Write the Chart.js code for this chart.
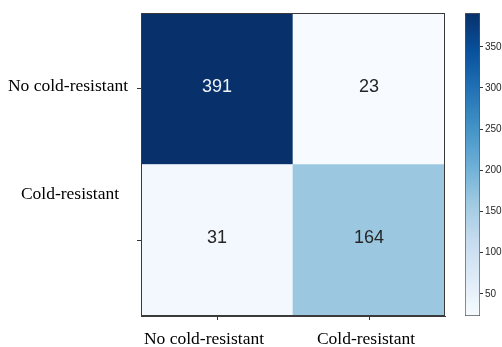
<!DOCTYPE html>
<html>
<head>
<meta charset="utf-8">
<script src="https://cdn.jsdelivr.net/npm/chart.js@4.4.1/dist/chart.umd.min.js"></script>
<style>
  html, body { margin: 0; padding: 0; background: #ffffff; }
  #wrap { position: relative; width: 502px; height: 347px; overflow: hidden; }
  #main { position: absolute; left: 0; top: 0; }
  #cbar { position: absolute; left: 455px; top: 0; }
</style>
</head>
<body>
<div id="wrap">
  <canvas id="main" width="455" height="347"></canvas>
  <canvas id="cbar" width="47" height="347"></canvas>
</div>
<script>
// ---- data ----
const categories = ['No cold-resistant', 'Cold-resistant'];   // true label (rows) / predicted (cols)
const rowNoCold = [391, 23];      // row "No cold-resistant"
const rowCold = [31, 164];        // row "Cold-resistant"
const colorbarTicks = [50, 100, 150, 200, 250, 300, 350];

const allVals = rowNoCold.concat(rowCold);
const vMin = Math.min(...allVals);
const vMax = Math.max(...allVals);

// matplotlib "Blues" colormap stops
const bluesStops = ['#f7fbff', '#deebf7', '#c6dbef', '#9ecae1', '#6baed6', '#4292c6', '#2171b5', '#08519c', '#08306b'];
function hexToRgb(h) { return [parseInt(h.substr(1,2),16), parseInt(h.substr(3,2),16), parseInt(h.substr(5,2),16)]; }
function blues(t) {
  t = Math.max(0, Math.min(1, t));
  const n = bluesStops.length - 1;
  const i = Math.min(n - 1, Math.floor(t * n));
  const f = t * n - i;
  const a = hexToRgb(bluesStops[i]), b = hexToRgb(bluesStops[i + 1]);
  const c = a.map((v, k) => Math.round(v + (b[k] - v) * f));
  return 'rgb(' + c.join(',') + ')';
}
const colorFor = v => blues((v - vMin) / (vMax - vMin));

Chart.defaults.animation = false;
Chart.defaults.devicePixelRatio = 1;

const SANS = "'Liberation Sans', Arial, sans-serif";
const SERIF = "'Liberation Serif', 'Times New Roman', serif";

// ---- heatmap (stacked bars: bottom row first) ----
const cellPlugin = {
  id: 'cells',
  afterDatasetsDraw(chart) {
    const ctx = chart.ctx;
    ctx.save();
    ctx.font = '18px ' + SANS;
    ctx.textAlign = 'center';
    ctx.textBaseline = 'middle';
    chart.data.datasets.forEach((ds, di) => {
      const meta = chart.getDatasetMeta(di);
      meta.data.forEach((el, i) => {
        const v = ds.values[i];
        ctx.fillStyle = v > (vMin + vMax) / 2 ? '#eef3f8' : '#262626';
        ctx.fillText(String(v), el.x, (el.y + el.base) / 2 - 2);
      });
    });
    // frame
    const a = chart.chartArea;
    ctx.strokeStyle = '#3a3a3a';
    ctx.lineWidth = 1;
    ctx.strokeRect(Math.round(a.left) + 0.5, Math.round(a.top) + 0.5, Math.round(a.right - a.left) - 1, Math.round(a.bottom - a.top) - 1);
    ctx.fillStyle = '#000000';
    ctx.font = '17.5px ' + SERIF;
    // y labels (row names)
    const ys = chart.scales.y;
    ctx.fillText(categories[0], 68, ys.getPixelForValue(1.5) - 2);
    ctx.fillText(categories[1], 70, ys.getPixelForValue(0.79) - 2);
    // x labels (column names)
    const xs = chart.scales.x;
    const xOff = [-13, -3];
    categories.forEach((c, i) => {
      ctx.fillText(c, xs.getPixelForTick(i) + xOff[i], a.bottom + 23);
    });
    ctx.restore();
  }
};

new Chart(document.getElementById('main'), {
  type: 'bar',
  data: {
    labels: categories,
    datasets: [
      { label: categories[1], values: rowCold, data: rowCold.map(() => 1),
        backgroundColor: rowCold.map(colorFor), borderWidth: 0,
        barPercentage: 1, categoryPercentage: 1 },
      { label: categories[0], values: rowNoCold, data: rowNoCold.map(() => 1),
        backgroundColor: rowNoCold.map(colorFor), borderWidth: 0,
        barPercentage: 1, categoryPercentage: 1 }
    ]
  },
  options: {
    responsive: false,
    layout: { padding: { top: 13, right: 10, left: 0, bottom: 0 } },
    plugins: { legend: { display: false }, tooltip: { enabled: false } },
    scales: {
      x: {
        stacked: true,
        grid: { drawOnChartArea: false, drawTicks: true, tickLength: 4, color: '#333333', offset: false },
        border: { display: true, color: '#3a3a3a' },
        ticks: { display: false },
        afterFit(s) { s.height = 31; }
      },
      y: {
        stacked: true, min: 0, max: 2,
        afterBuildTicks(s) { s.ticks = [{ value: 0.5 }, { value: 1.5 }]; },
        grid: { drawOnChartArea: false, drawTicks: true, tickLength: 4, color: '#333333' },
        border: { display: true, color: '#3a3a3a' },
        ticks: { display: false },
        afterFit(s) { s.width = 141; }
      }
    }
  },
  plugins: [cellPlugin]
});

// ---- colorbar ----
function gradientFill(context) {
  const chart = context.chart;
  const area = chart.chartArea;
  if (!area) return bluesStops[4];
  const g = chart.ctx.createLinearGradient(0, area.bottom, 0, area.top);
  for (let i = 0; i <= 40; i++) g.addColorStop(i / 40, blues(i / 40));
  return g;
}

new Chart(document.getElementById('cbar'), {
  type: 'bar',
  data: {
    labels: [''],
    datasets: [{ data: [[vMin, vMax]], backgroundColor: gradientFill,
      borderColor: '#555555', borderWidth: 1, borderSkipped: false,
      barPercentage: 1, categoryPercentage: 1 }]
  },
  options: {
    responsive: false,
    layout: { padding: { top: 13, left: 10, right: 0, bottom: 31 } },
    plugins: { legend: { display: false }, tooltip: { enabled: false } },
    scales: {
      x: { display: false },
      y: {
        position: 'right', min: vMin, max: vMax,
        afterBuildTicks(s) { s.ticks = colorbarTicks.map(v => ({ value: v })); },
        grid: { drawOnChartArea: false, drawTicks: true, tickLength: 3, color: '#333333' },
        border: { display: false },
        ticks: { color: '#262626', font: { family: SANS, size: 10 }, padding: 2 },
        afterFit(s) { s.width = 22; }
      }
    }
  }
});
</script>
</body>
</html>
